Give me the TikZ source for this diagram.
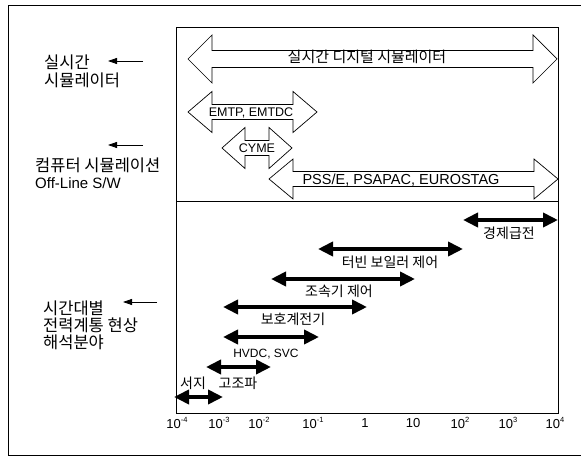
\documentclass[tikz,border=0pt]{standalone}
\usepackage{fontspec}
\setmainfont{Liberation Sans}
\newfontfamily\kr{Noto Sans CJK KR}
\usetikzlibrary{arrows.meta}
% left x, right x, y, head half height, shaft half height, head length
\newcommand\hollowarr[6]{%
  \draw[hollowarrow] (#1,#3) -- ({#1+#6},{#3-#4}) -- ({#1+#6},{#3-#5}) -- ({#2-#6},{#3-#5})
    -- ({#2-#6},{#3-#4}) -- (#2,#3) -- ({#2-#6},{#3+#4}) -- ({#2-#6},{#3+#5})
    -- ({#1+#6},{#3+#5}) -- ({#1+#6},{#3+#4}) -- cycle;}
\newcommand\sx[1]{\raisebox{5.5pt}{\fontsize{7.5}{8}\selectfont #1}}
\begin{document}
\begin{tikzpicture}[x=1pt,y=-1pt,
  frame/.style={line width=0.9pt},
  boxline/.style={line width=0.8pt},
  hollowarrow/.style={draw, line width=0.7pt, fill=white, line join=miter},
  bigarr/.style={line width=4.5pt, {Triangle[length=15pt,width=14pt]}-{Triangle[length=15pt,width=14pt]}},
  ptr/.style={line width=0.8pt, -{Triangle[length=9pt,width=6pt]}},
  krlab/.style={font=\kr\fontsize{16.5}{18}\selectfont, anchor=west, inner sep=0},
  latlab/.style={font=\fontsize{15}{16}\selectfont, anchor=west, inner sep=0},
  midkr/.style={font=\kr\fontsize{15}{17}\selectfont, inner sep=0},
  lowkr/.style={font=\kr\fontsize{14}{16}\selectfont, inner sep=0},
  lat/.style={font=\fontsize{12.5}{14}\selectfont, inner sep=0},
  ax/.style={font=\fontsize{13}{15}\selectfont, inner sep=0}]
\useasboundingbox (0,0) rectangle (581,457);
% outer frame
\draw[frame] (581,5) -- (8,5) -- (8,455) -- (581,455);
% inner boxes
\draw[boxline] (176,27) rectangle (558,201);
\draw[boxline] (176,201) rectangle (558,413);

% hollow arrows (software)
\hollowarr{188}{557}{59}{24}{8.5}{24}
\node[midkr] (rtds) at (367,57) {실시간 디지털 시뮬레이터};
\hollowarr{188}{317}{112}{20.5}{7.5}{24}
\node[lat] (emtp) at (251,113) {EMTP, EMTDC};
\hollowarr{222}{292}{148}{20.5}{7.5}{23}
\node[lat] (cyme) at (257,148) {CYME};
\hollowarr{269}{558}{179}{20}{7.5}{24}
\node[lat, font=\fontsize{14.5}{16}\selectfont] (pss) at (401,180) {PSS/E, PSAPAC, EUROSTAG};

% left labels
\node[krlab] (l1a) at (44,62) {실시간};
\node[krlab] (l1b) at (44,80) {시뮬레이터};
\coordinate (p1s) at (143,61); \coordinate (p1e) at (108,61);
\draw[ptr] (p1s) -- (p1e);
\coordinate (p2s) at (143,145); \coordinate (p2e) at (108,145);
\draw[ptr] (p2s) -- (p2e);
\node[krlab] (l2a) at (35,165) {컴퓨터 시뮬레이션};
\node[latlab] (l2b) at (35,183) {Off-Line S/W};
\coordinate (p3s) at (157,302); \coordinate (p3e) at (123,302);
\draw[ptr] (p3s) -- (p3e);
\node[krlab] (l3a) at (43,308) {시간대별};
\node[krlab] (l3b) at (43,325) {전력계통 현상};
\node[krlab] (l3c) at (43,342) {해석분야};

% time-scale arrows
\coordinate (s1) at (174,397); \coordinate (s2) at (223,397);
\draw[bigarr] (s1) -- (s2);
\node[lowkr] (surge) at (193,383) {서지};
\coordinate (h1) at (206,367); \coordinate (h2) at (271,367);
\draw[bigarr] (h1) -- (h2);
\node[lowkr] (harm) at (238,383) {고조파};
\coordinate (d1) at (223,337); \coordinate (d2) at (319,337);
\draw[bigarr] (d1) -- (d2);
\node[lat, font=\fontsize{12}{14}\selectfont] (hvdc) at (266,354) {HVDC, SVC};
\coordinate (r1) at (223,307); \coordinate (r2) at (367,307);
\draw[bigarr] (r1) -- (r2);
\node[lowkr] (relay) at (293,319) {보호계전기};
\coordinate (g1) at (271,279); \coordinate (g2) at (415,279);
\draw[bigarr] (g1) -- (g2);
\node[lowkr] (gov) at (339,291) {조속기 제어};
\coordinate (t1) at (318,249); \coordinate (t2) at (463,249);
\draw[bigarr] (t1) -- (t2);
\node[lowkr] (turb) at (390,262) {터빈 보일러 제어};
\coordinate (e1) at (463,220); \coordinate (e2) at (558,220);
\draw[bigarr] (e1) -- (e2);
\node[lowkr] (econ) at (509,233) {경제급전};

% axis labels
\node[ax] (tA) at (177,423) {10\sx{-4}};
\node[ax] (tB) at (219,423) {10\sx{-3}};
\node[ax] (tC) at (259,423) {10\sx{-2}};
\node[ax] (tD) at (313,423) {10\sx{-1}};
\node[ax] (tE) at (365,423) {1};
\node[ax] (tF) at (413,423) {10};
\node[ax] (tG) at (460,423) {10\sx{2}};
\node[ax] (tH) at (508,423) {10\sx{3}};
\node[ax] (tI) at (555,423) {10\sx{4}};
\end{tikzpicture}
\end{document}
